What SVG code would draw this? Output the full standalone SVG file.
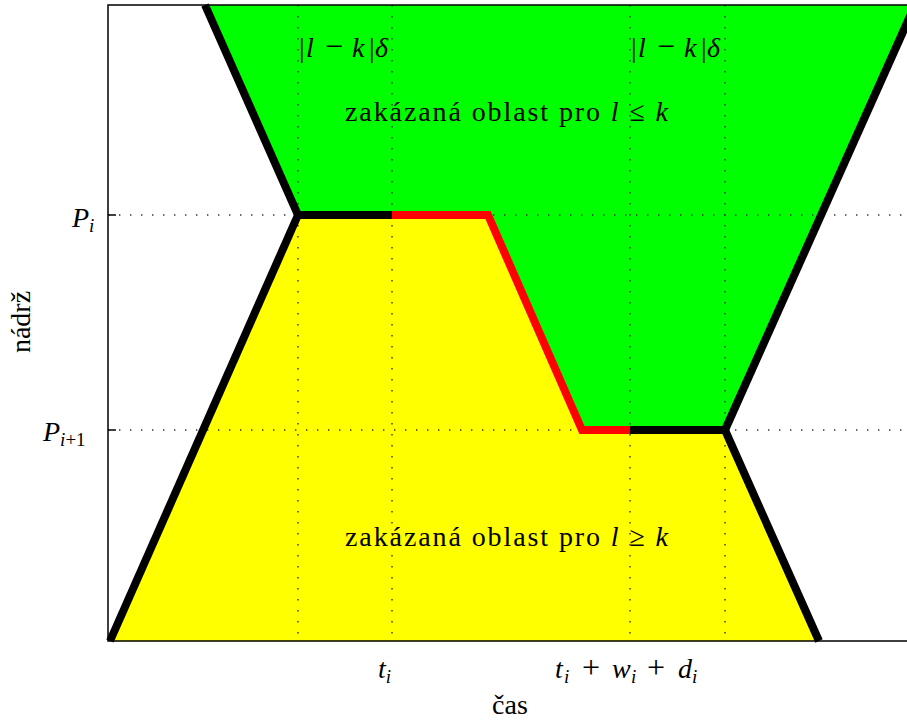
<svg xmlns="http://www.w3.org/2000/svg" width="907" height="724" viewBox="0 0 907 724">
<style>
text{font-family:"Liberation Serif","DejaVu Serif",serif;fill:#000;font-size:28px}
.m{font-style:italic}
.s{font-size:19px}
.op{font-size:32px}
.dot{stroke:#333;stroke-width:1.4;stroke-dasharray:1.4 9.6;fill:none}
.bd{stroke-width:8;fill:none;stroke-linejoin:miter;stroke-linecap:butt}
</style>
<rect width="907" height="724" fill="#fff"/>
<g id="green-region"><polygon points="205,5 298,215 488,215 582,430 725,430 915,5" fill="#00ff00"/></g>
<g id="yellow-region"><polygon points="108,641 298,215 488,215 582,430 725,430 819,641" fill="#ffff00"/></g>
<g id="grid">
<line class="dot" x1="108" y1="215" x2="907" y2="215"/>
<line class="dot" x1="108" y1="430" x2="907" y2="430"/>
<line class="dot" x1="298" y1="5" x2="298" y2="641"/>
<line class="dot" x1="392" y1="5" x2="392" y2="641"/>
<line class="dot" x1="630" y1="5" x2="630" y2="641"/>
<line class="dot" x1="725" y1="5" x2="725" y2="641"/>
</g>
<g id="axes" stroke="#000" stroke-width="1.5" fill="none">
<polyline points="907,5 108,5 108,641 907,641"/>
<line x1="108" y1="215" x2="116" y2="215"/>
<line x1="108" y1="430" x2="116" y2="430"/>
</g>
<g id="connectors">
<polyline class="bd" stroke="#000" points="205,5 298,215 392,215"/>
<polyline class="bd" stroke="#000" points="110,641 298,215"/>
<polyline class="bd" stroke="#ff0000" points="392,215 488,215 582,430 630,430"/>
<polyline class="bd" stroke="#000" points="630,430 725,430 819,641"/>
<polyline class="bd" stroke="#000" points="725,430 915,5"/>
</g>
<g id="labels">
<text y="57"><tspan x="299">|</tspan><tspan x="306" class="m">l</tspan><tspan x="325" class="op">−</tspan><tspan x="352" class="m">k</tspan><tspan x="369">|</tspan><tspan x="375" class="m">δ</tspan></text>
<text y="57"><tspan x="631">|</tspan><tspan x="638" class="m">l</tspan><tspan x="657" class="op">−</tspan><tspan x="684" class="m">k</tspan><tspan x="701">|</tspan><tspan x="707" class="m">δ</tspan></text>
<text x="345" y="121" textLength="323">zakázaná oblast pro <tspan class="m">l</tspan> ≤ <tspan class="m">k</tspan></text>
<text x="345" y="546" textLength="323">zakázaná oblast pro <tspan class="m">l</tspan> ≥ <tspan class="m">k</tspan></text>
<text x="72" y="227" class="m">P<tspan class="s" dy="5">i</tspan></text>
<text x="43" y="441" class="m">P<tspan class="s" dy="5">i</tspan><tspan class="s" font-style="normal">+1</tspan></text>
<text x="378" y="678" class="m">t<tspan class="s" dy="5">i</tspan></text>
<text y="678"><tspan x="555" class="m">t</tspan><tspan x="564" class="s m" dy="5">i</tspan><tspan x="582" class="op" dy="-5">+</tspan><tspan x="612" class="m">w</tspan><tspan x="631" class="s m" dy="5">i</tspan><tspan x="647" class="op" dy="-5">+</tspan><tspan x="678" class="m">d</tspan><tspan x="692" class="s m" dy="5">i</tspan></text>
<text x="510" y="714" text-anchor="middle">čas</text>
<text transform="translate(30,322) rotate(-90)" text-anchor="middle">nádrž</text>
</g>
</svg>
